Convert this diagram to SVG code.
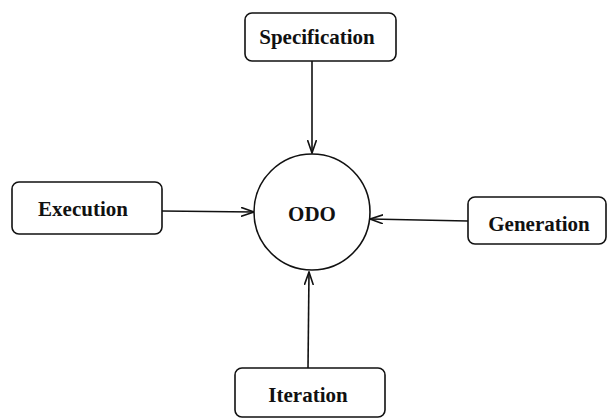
<svg xmlns="http://www.w3.org/2000/svg" width="613" height="419" viewBox="0 0 613 419">
<style>
.box{fill:#fff;stroke:#111;stroke-width:1.6}
.lbl{font-family:"Liberation Serif","Times New Roman",serif;font-weight:bold;font-size:21px;fill:#111;text-anchor:middle;dominant-baseline:central}
.edge{stroke:#111;stroke-width:1.6;fill:none}
</style>
<defs>
<marker id="arr" viewBox="0 0 14 10" refX="13" refY="5" markerWidth="14" markerHeight="10" markerUnits="userSpaceOnUse" orient="auto">
<polyline points="0,0.5 13,5 0,9.5" fill="none" stroke="#111" stroke-width="1.6"/>
</marker>
</defs>
<rect width="613" height="419" fill="#fff"/>
<g id="connectors">
<line class="edge" x1="312" y1="61" x2="312" y2="153" marker-end="url(#arr)"/>
<line class="edge" x1="162" y1="211" x2="254" y2="212" marker-end="url(#arr)"/>
<line class="edge" x1="468" y1="221" x2="370" y2="219" marker-end="url(#arr)"/>
<line class="edge" x1="308" y1="368" x2="309" y2="272" marker-end="url(#arr)"/>
</g>
<g id="odo">
<circle cx="312" cy="212" r="58" fill="#fff" stroke="#111" stroke-width="1.6"/>
<text class="lbl" x="312" y="214">ODO</text>
</g>
<g id="specification">
<rect class="box" x="245" y="13" width="151" height="48" rx="7"/>
<text class="lbl" x="317" y="37">Specification</text>
</g>
<g id="execution">
<rect class="box" x="12" y="182" width="150" height="52" rx="7"/>
<text class="lbl" x="83" y="209">Execution</text>
</g>
<g id="generation">
<rect class="box" x="468" y="197" width="138" height="47" rx="7"/>
<text class="lbl" x="539" y="224">Generation</text>
</g>
<g id="iteration">
<rect class="box" x="235" y="368" width="150" height="49" rx="7"/>
<text class="lbl" x="308" y="395">Iteration</text>
</g>
</svg>
